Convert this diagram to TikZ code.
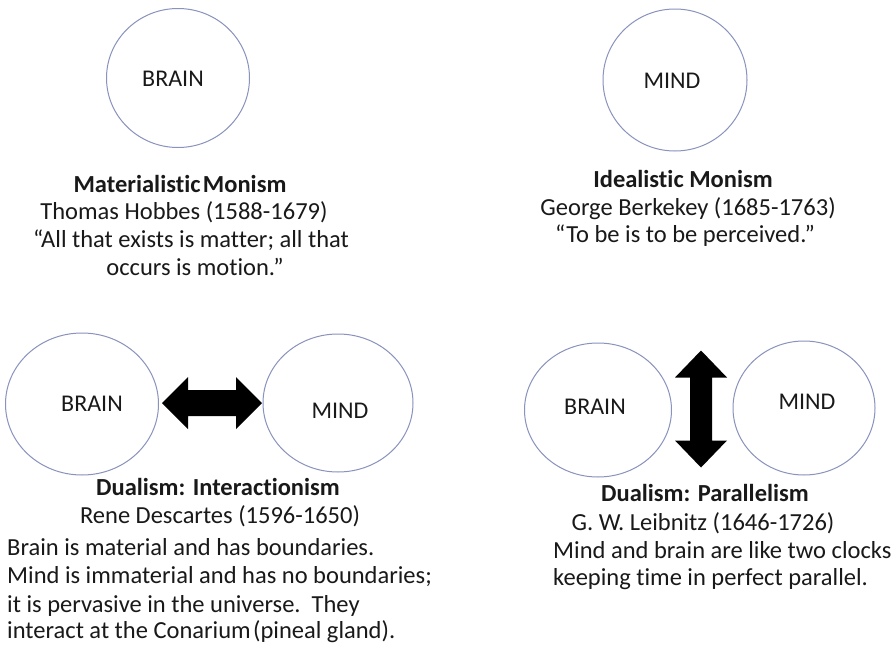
\documentclass[tikz,border=0pt]{standalone}
\usepackage{fontspec}
\setmainfont[Ligatures=NoCommon]{Carlito}
\usetikzlibrary{shapes.geometric,calc}
\definecolor{ringcol}{RGB}{138,146,190}
\definecolor{txtcol}{RGB}{25,25,25}
\tikzset{
  ring/.style={draw=ringcol, line width=1pt, ellipse, inner sep=0pt, minimum width=#1},
  lbl/.style={anchor=base, inner sep=0pt, text=txtcol, font=\fontsize{24}{28}\selectfont},
  ttl/.style={anchor=base, inner sep=0pt, text=txtcol, font=\fontsize{24.5}{28}\selectfont\bfseries},
  ln/.style={anchor=base, inner sep=0pt, text=txtcol, font=\fontsize{24.5}{28}\selectfont},
  lnl/.style={anchor=base west, inner sep=0pt, text=txtcol, font=\fontsize{24.5}{28}\selectfont},
  bigarrow/.style={fill=black}
}
\begin{document}
\begin{tikzpicture}[x=1pt,y=-1pt]
\useasboundingbox[fill=white] (0,0) rectangle (895,648);
% circles
\node[ring=143pt, minimum height=139pt] (c1) at (178,78) {};
\node[ring=144pt, minimum height=142pt] (c2) at (675,80) {};
\node[ring=153pt, minimum height=142pt] (b3) at (82,404) {};
\node[ring=150pt, minimum height=138pt] (m3) at (338,403) {};
\node[ring=147pt, minimum height=134pt] (b4) at (598,410) {};
\node[ring=142pt, minimum height=134pt] (m4) at (804,408) {};
% circle labels
\node[lbl] (t1) at (173,86) {BRAIN};
\node[lbl] (t2) at (672,88) {MIND};
\node[lbl] (t3) at (92,411) {BRAIN};
\node[lbl] (t4) at (340,418) {MIND};
\node[lbl] (t5) at (595,414) {BRAIN};
\node[lbl] (t6) at (807,409) {MIND};
% arrows
\coordinate (hl) at ($(b3.east)+(3,-1)$);
\fill[bigarrow] (hl) -- ++(26,-26) -- ++(0,13) -- ++(48,0) -- ++(0,-13) -- ++(26,26)
  -- ++(-26,26) -- ++(0,-13) -- ++(-48,0) -- ++(0,13) -- cycle;
\coordinate (vt) at ($(b4)!0.5!(m4)+(0,-58.5)$);
\fill[bigarrow] (vt) -- ++(26,27) -- ++(-15,0) -- ++(0,63) -- ++(15,0) -- ++(-26,27)
  -- ++(-26,-27) -- ++(15,0) -- ++(0,-63) -- ++(-15,0) -- cycle;
% top-left text
\node[ttl] (a1) at (180,192) {Materialistic\hspace{0.1em}Monism};
\node[ln] (a2) at (184,219) {Thomas Hobbes (1588-1679)};
\node[ln] (a3) at (191,247) {“All that exists is matter; all that};
\node[ln] (a4) at (195,275) {occurs is motion.”};
% top-right text
\node[ttl] (d1) at (683,187) {Idealistic Monism};
\node[ln] (d2) at (688,215) {George Berkekey (1685-1763)};
\node[ln] (d3) at (685,242) {“To be is to be perceived.”};
% bottom-left text
\node[ttl] (e1) at (218,495) {Dualism: Interactionism};
\node[ln] (e2) at (220,523) {Rene Descartes (1596-1650)};
\node[lnl] (e3) at (7,555) {Brain is material and has boundaries.};
\node[lnl] (e4) at (7,583) {Mind is immaterial and has no boundaries;};
\node[lnl] (e5) at (7,612) {it is pervasive in the universe.\ \ They};
\node[lnl] (e6) at (7,638) {interact at the Conarium\hspace{0.1em}(pineal gland).};
% bottom-right text
\node[ttl] (f1) at (705,501) {Dualism: Parallelism};
\node[ln] (f2) at (703,530) {G. W. Leibnitz (1646-1726)};
\node[lnl] (f3) at (553,558) {Mind and brain are like two clocks};
\node[lnl] (f4) at (553,585) {keeping time in perfect parallel.};
\end{tikzpicture}
\end{document}
